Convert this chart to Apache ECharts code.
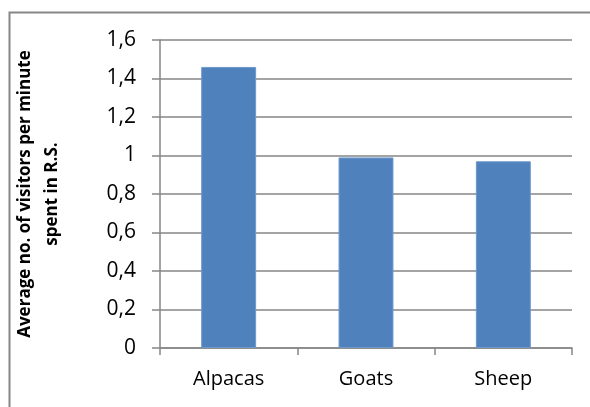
<!DOCTYPE html>
<html>
<head>
<meta charset="utf-8">
<script src="https://cdn.jsdelivr.net/npm/echarts@6/dist/echarts.min.js"></script>
<style>
  html, body { margin: 0; padding: 0; background: #ffffff; }
  #chart { width: 590px; height: 407px; }
</style>
</head>
<body>
<div id="chart"></div>
<script>
// Average visitors per minute spent in R.S., by animal
const categories = ['Alpacas', 'Goats', 'Sheep'];
const visitorsPerMinute = [1.46, 0.99, 0.97];
const yTickLabels = ['0', '0,2', '0,4', '0,6', '0,8', '1', '1,2', '1,4', '1,6'];
const yTitle = 'Average no. of visitors per minute\nspent in R.S.';

const axisGray = '#868686';
const fontFamily = '"Open Sans", "Noto Sans", sans-serif';

const chart = echarts.init(document.getElementById('chart'), null, { renderer: 'canvas' });

chart.setOption({
  animation: false,
  backgroundColor: '#ffffff',
  graphic: [{
    type: 'rect',
    left: 7, top: 10,
    shape: { x: 0, y: 0, width: 700, height: 500 },
    style: { fill: 'none', stroke: axisGray, lineWidth: 2 },
    silent: true
  }],
  grid: { left: 160, right: 18, top: 40, bottom: 59 },
  xAxis: {
    type: 'category',
    data: categories,
    axisLine: { show: true, lineStyle: { color: axisGray, width: 1.5 } },
    axisTick: { show: true, length: 7, lineStyle: { color: axisGray, width: 1.5 } },
    axisLabel: { color: '#000', fontFamily, fontSize: 20, margin: 21 }
  },
  yAxis: {
    type: 'value',
    min: 0, max: 1.6, interval: 0.2,
    name: yTitle,
    nameLocation: 'middle',
    nameRotate: 90,
    nameGap: 94,
    nameTextStyle: {
      color: '#000', fontFamily, fontWeight: 'bold', fontSize: 17,
      lineHeight: 27, align: 'center'
    },
    axisLine: { show: true, lineStyle: { color: axisGray, width: 1.5 } },
    axisTick: { show: true, length: 8, lineStyle: { color: axisGray, width: 1.5 } },
    splitLine: { show: true, lineStyle: { color: axisGray, width: 1.5 } },
    axisLabel: {
      color: '#000', fontFamily, fontSize: 21, margin: 24,
      formatter: v => yTickLabels[Math.round(v / 0.2)]
    }
  },
  series: [{
    type: 'bar',
    data: visitorsPerMinute,
    barWidth: '40%',
    itemStyle: { color: '#4F81BD', borderColor: '#6f98cb', borderWidth: 1 }
  }]
});
</script>
</body>
</html>
